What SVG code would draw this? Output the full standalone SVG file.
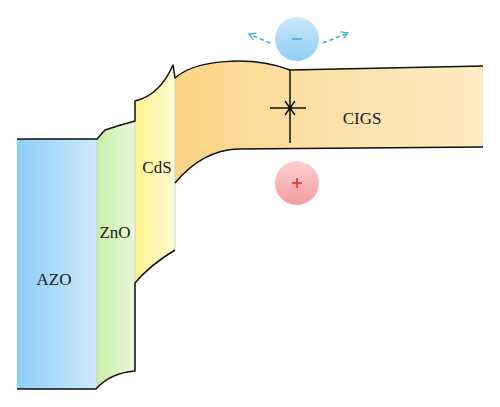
<svg xmlns="http://www.w3.org/2000/svg" width="500" height="407" viewBox="0 0 500 407">
<style>
.lbl{font-family:"Liberation Serif","Times New Roman",serif;font-size:17px;fill:#1a1a1a;text-anchor:middle}
.edge{fill:none;stroke:#111;stroke-width:1.5;stroke-linejoin:round}
.inner{fill:none;stroke:#c9d3c9;stroke-width:1}
.dash{fill:none;stroke:#35aee2;stroke-width:1.6;stroke-dasharray:4 3}
</style>
<defs>
<linearGradient id="gAZO" x1="0" y1="0" x2="1" y2="0"><stop offset="0" stop-color="#8ccff6"/><stop offset="1" stop-color="#cfe9fb"/></linearGradient>
<linearGradient id="gZnO" x1="0" y1="0" x2="1" y2="0"><stop offset="0" stop-color="#c7f0a6"/><stop offset="1" stop-color="#e9f8dc"/></linearGradient>
<linearGradient id="gCdS" x1="0" y1="0" x2="1" y2="0"><stop offset="0" stop-color="#fff38f"/><stop offset="1" stop-color="#fffad4"/></linearGradient>
<linearGradient id="gCIGS" x1="175" y1="0" x2="483" y2="0" gradientUnits="userSpaceOnUse"><stop offset="0" stop-color="#fad585"/><stop offset="0.5" stop-color="#fde1aa"/><stop offset="1" stop-color="#feeac5"/></linearGradient>
<linearGradient id="gBlue" x1="0" y1="0" x2="0" y2="1"><stop offset="0" stop-color="#cde8fb"/><stop offset="1" stop-color="#8ecef5"/></linearGradient>
<linearGradient id="gRed" x1="0" y1="0" x2="0" y2="1"><stop offset="0" stop-color="#fbd2d2"/><stop offset="1" stop-color="#f89a9c"/></linearGradient>
<marker id="chev" viewBox="0 0 10 10" refX="8" refY="5" markerWidth="9" markerHeight="9" markerUnits="userSpaceOnUse" orient="auto"><path d="M1,1 L8,5 L1,9" fill="none" stroke="#35aee2" stroke-width="1.4"/></marker>
</defs>

<g id="AZO">
<path d="M17,139 H97 V389 H17 Z" fill="url(#gAZO)"/>
<text class="lbl" x="54" y="285">AZO</text>
</g>
<g id="ZnO">
<path d="M97,139 L105,130 Q120,125 135,121 V371 Q110,373 96,389 Z" fill="url(#gZnO)"/>
<text class="lbl" x="115" y="238">ZnO</text>
</g>
<g id="CdS">
<path d="M135,121 V101 Q160,95 173,65 L175,78 V250 Q150,265 135,283 Z" fill="url(#gCdS)"/>
<text class="lbl" x="157" y="173">CdS</text>
</g>
<g id="CIGS">
<path d="M175,78 C195,60 250,55 290,70 L483,66 V147 L238,149 C210,150 190,165 175,183 Z" fill="url(#gCIGS)"/>
<text class="lbl" x="362" y="124">CIGS</text>
</g>

<g id="outlines">
<path class="inner" d="M97,139 V389 M135,121 V371 M175,78 V250"/>
<path class="edge" d="M17,139 H97 L105,130 Q120,125 135,121 V101 Q160,95 173,65 L175,78 C195,60 250,55 290,70 L483,66"/>
<path class="edge" d="M483,147 L238,149 C210,150 190,165 175,183"/>
<path class="edge" d="M175,250 Q150,265 135,283 V371 Q110,373 96,389 H17"/>
</g>

<g id="junction">
<path class="edge" d="M290,70 V143 M270,108 H306 M285,101 L295,115 M295,101 L285,115"/>
</g>

<g id="electron">
<circle cx="297" cy="39" r="22" fill="url(#gBlue)"/>
<path d="M292,39 H302" stroke="#3a9fd6" stroke-width="1.4"/>
</g>
<g id="hole">
<circle cx="297" cy="183" r="22" fill="url(#gRed)"/>
<path d="M292,183 H302 M297,178 V188" stroke="#e02a2a" stroke-width="1.4"/>
</g>

<g id="connectors">
<path class="dash" d="M270,43 L249,34" marker-end="url(#chev)"/>
<path class="dash" d="M323,43 L348,33" marker-end="url(#chev)"/>
</g>
</svg>
